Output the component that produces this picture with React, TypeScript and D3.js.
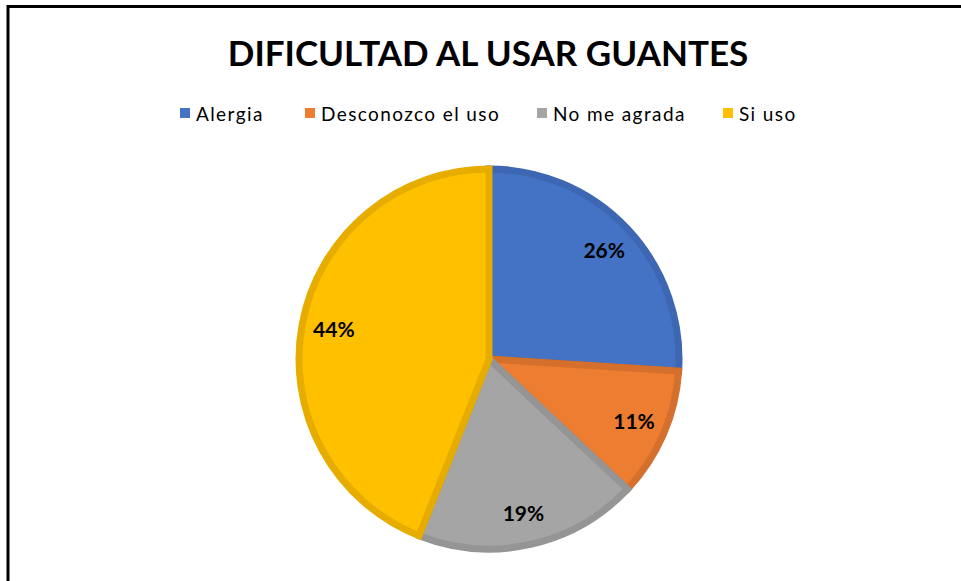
import React from 'react';
import { pie, arc, PieArcDatum } from 'd3';

// chart data
const categories = ['Alergia', 'Desconozco el uso', 'No me agrada', 'Si uso'];
const percents = [26, 11, 19, 44];
const fills = ['#4472C4', '#ED7D31', '#A5A5A5', '#FFC000'];
const borders = ['#3D67B2', '#D46F2C', '#959595', '#E6AD00'];
const title = 'DIFICULTAD AL USAR GUANTES';

const W = 961;
const H = 581;
const cx = 489;
const cy = 359;
const R = 190;
const fontFam = "Lato, 'Open Sans', sans-serif";

// legend x positions of each swatch
const legendX = [180, 305, 537, 723];

export default function App() {
	const pieGen = pie<number>().sort(null).value(d => d);
	const slices = pieGen(percents);
	const arcGen = arc<PieArcDatum<number>>().innerRadius(0).outerRadius(R);
	const labelArc = arc<PieArcDatum<number>>().innerRadius(158).outerRadius(158);

	return (
		<svg width={W} height={H} style={{ position: 'absolute', left: 0, top: 0, background: '#fff' }}>
			<rect x={8} y={6.5} width={W + 20} height={H + 20} fill="#fff" stroke="#000" strokeWidth={3} />
			<text x={488} y={66} textAnchor="middle" fontFamily={fontFam} fontWeight={700} fontSize={35} fill="#000">
				{title}
			</text>
			<g>
				{categories.map((c, i) => (
					<g key={c}>
						<rect x={legendX[i]} y={108} width={10} height={10} fill={fills[i]} />
						<text x={legendX[i] + 16} y={121} fontFamily={fontFam} fontSize={19} letterSpacing={1.4} fill="#000">{c}</text>
					</g>
				))}
			</g>
			<g transform={`translate(${cx},${cy})`}>
				{slices.map((s, i) => (
					<path key={i} d={arcGen(s) || ''} fill={fills[i]} stroke={borders[i]} strokeWidth={7} strokeLinejoin="miter" />
				))}
				{slices.map((s, i) => {
					const [x, y] = labelArc.centroid(s);
					return (
						<text key={'l' + i} x={x} y={y} dy="0.35em" textAnchor="middle" fontFamily={fontFam}
							fontWeight={700} fontSize={21} fill="#000">
							{percents[i]}%
						</text>
					);
				})}
			</g>
		</svg>
	);
}
